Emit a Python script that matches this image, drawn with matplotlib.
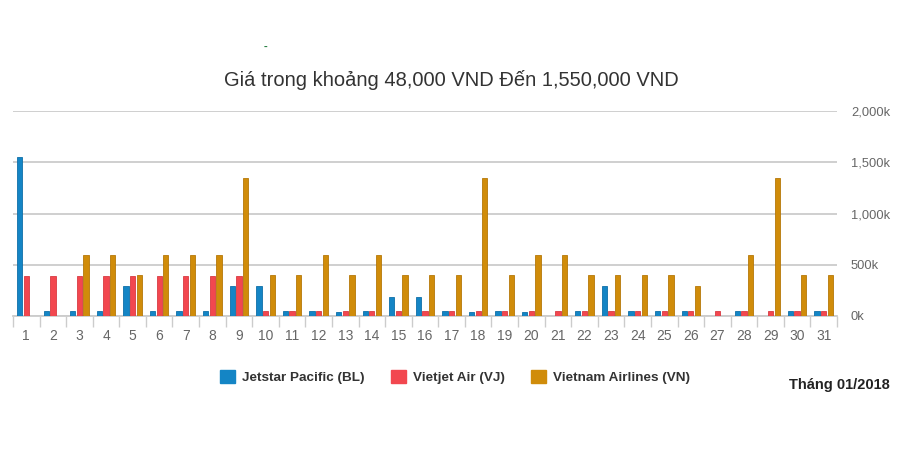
import matplotlib
matplotlib.use("Agg")
import matplotlib.pyplot as plt
import numpy as np
from matplotlib.patches import Patch
from matplotlib.ticker import FuncFormatter, FixedLocator

plt.rcParams['font.family'] = ['Liberation Sans', 'DejaVu Sans']

days = [str(d) for d in range(1, 32)]
# prices in thousands of VND (0 = no flight)
jetstar = [1550, 48, 48, 48, 290, 48, 48, 48, 290, 290,
           48, 48, 36, 48, 190, 190, 48, 36, 48, 36,
           0, 48, 290, 48, 48, 48, 0, 48, 0, 48, 48]
vietjet = [390, 390, 390, 390, 390, 390, 390, 390, 390, 48,
           48, 48, 48, 48, 48, 48, 48, 48, 48, 48,
           48, 48, 48, 48, 48, 48, 48, 48, 48, 48, 48]
vietnam = [0, 0, 600, 600, 400, 600, 600, 600, 1350, 400,
           400, 600, 400, 600, 400, 400, 400, 1350, 400, 600,
           600, 400, 400, 400, 400, 290, 0, 600, 1350, 400, 400]
series_names = ['Jetstar Pacific (BL)', 'Vietjet Air (VJ)', 'Vietnam Airlines (VN)']
colors = ['#1485C5', '#F2474F', '#D08C0A']
edges = ['#0E6FA8', '#D83A42', '#B57808']
yticks = [0, 500, 1000, 1500, 2000]

fig = plt.figure(figsize=(9, 4.71), dpi=100)
ax = fig.add_axes([13/900, 155/471, 824/900, 205/471])

x = np.arange(len(days))
w = 0.2
offs = [-0.25, 0.0, 0.25]
for vals, off, c, ec in zip([jetstar, vietjet, vietnam], offs, colors, edges):
    ax.bar(x + off, vals, width=w, color=c, edgecolor=ec, linewidth=0.6, zorder=3)

ax.set_xlim(-0.5, len(days) - 0.5)
ax.set_ylim(0, 2000)
ax.yaxis.set_major_locator(FixedLocator(yticks))
ax.yaxis.set_major_formatter(FuncFormatter(lambda v, p: f"{int(v):,}k"))
ax.yaxis.tick_right()
ax.tick_params(axis='y', length=0, pad=10, labelsize=9.3, labelcolor='#666666')
for lab in ax.get_yticklabels():
    lab.set_horizontalalignment('left')
ax.grid(axis='y', color='#cccccc', linewidth=1.3, zorder=0)

ax.set_xticks(x)
ax.set_xticklabels(days)
ax.tick_params(axis='x', length=0, pad=9, labelsize=10, labelcolor='#666666')
ax.set_xticks(np.arange(-0.5, len(days) + 0.5, 1), minor=True)
ax.tick_params(axis='x', which='minor', length=8, color='#cccccc', width=1)

for s in ['top', 'right', 'left']:
    ax.spines[s].set_visible(False)
ax.spines['bottom'].set_color('#cccccc')
ax.spines['bottom'].set_linewidth(1.3)

fig.text(0.501, 1 - 80/471, 'Giá trong khoảng 48,000 VND Đến 1,550,000 VND',
         ha='center', va='center', fontsize=14.5, color='#333333')
fig.text(265/900, 1 - 47/471, '-', color='#1e7a3a', fontsize=8, fontweight='bold',
         ha='center', va='center')

handles = [Patch(facecolor=c, edgecolor=c) for c in colors]
leg = fig.legend(handles, series_names, loc='center', bbox_to_anchor=(455/900, 1 - 377/471),
                 ncol=3, frameon=False, handlelength=1.1, handleheight=1.1,
                 handletextpad=0.5, columnspacing=2.0,
                 prop={'size': 9.7, 'weight': 'bold'})
for t in leg.get_texts():
    t.set_color('#333333')

fig.text(890/900, 1 - 385/471, 'Tháng 01/2018', ha='right', va='center',
         fontsize=10.5, fontweight='bold', color='#222222')

fig.savefig('out.png', dpi=100, facecolor='white')
